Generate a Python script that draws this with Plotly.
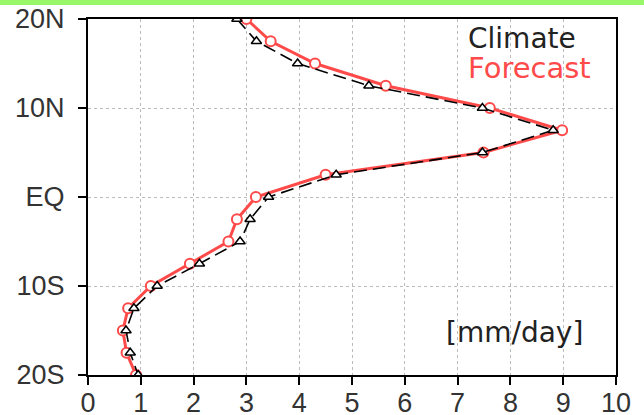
import plotly.graph_objects as go

lat = [20, 17.5, 15, 12.5, 10, 7.5, 5, 2.5, 0, -2.5, -5, -7.5, -10, -12.5, -15, -17.5, -20]
climate = [2.82, 3.19, 3.97, 5.32, 7.47, 8.81, 7.47, 4.70, 3.42, 3.07, 2.88, 2.11, 1.31, 0.87, 0.72, 0.80, 0.95]
forecast = [3.00, 3.46, 4.30, 5.64, 7.61, 8.98, 7.49, 4.50, 3.18, 2.82, 2.66, 1.93, 1.19, 0.76, 0.66, 0.73, 0.91]

lat_ticks = [-20, -10, 0, 10, 20]
lat_labels = ["20S", "10S", "EQ", "10N", "20N"]
x_ticks = [0, 1, 2, 3, 4, 5, 6, 7, 8, 9, 10]

RED = "#ff4a4a"

fig = go.Figure()
fig.add_trace(go.Scatter(
    x=forecast, y=lat, mode="lines+markers", name="Forecast",
    line=dict(color=RED, width=3),
    marker=dict(symbol="circle", size=10, color="white", line=dict(color=RED, width=2)),
))
fig.add_trace(go.Scatter(
    x=climate, y=lat, mode="lines+markers", name="Climate",
    line=dict(color="black", width=1.6, dash="13px,6px"),
    marker=dict(symbol="triangle-up", size=9, color="white", line=dict(color="black", width=1.5)),
))

fig.update_layout(
    width=644, height=415,
    margin=dict(l=88, r=28, t=19, b=40),
    paper_bgcolor="white", plot_bgcolor="white",
    showlegend=False,
    font=dict(family="Liberation Sans", color="#333333", size=27),
    shapes=[dict(type="rect", xref="paper", yref="paper",
                 x0=-0.17, x1=1.06, y0=1.0393, y1=1.06,
                 fillcolor="#98f86a", line=dict(width=0), layer="above")],
    annotations=[
        dict(text="Climate", x=0.716, y=0.9466, xref="paper", yref="paper",
             xanchor="left", yanchor="middle", showarrow=False,
             font=dict(family="DejaVu Sans", size=28, color="#222222")),
        dict(text="Forecast", x=0.716, y=0.862, xref="paper", yref="paper",
             xanchor="left", yanchor="middle", showarrow=False,
             font=dict(family="DejaVu Sans", size=29, color=RED)),
        dict(text="[mm/day]", x=0.941, y=0.118, xref="paper", yref="paper",
             xanchor="right", yanchor="middle", showarrow=False,
             font=dict(family="DejaVu Sans", size=28, color="#222222")),
    ],
)
fig.update_xaxes(
    range=[0, 10], tickvals=x_ticks, ticks="outside", ticklen=8, tickwidth=2,
    tickcolor="black", showline=True, linecolor="black", linewidth=2, mirror=True,
    showgrid=True, gridcolor="#bbbbbb", gridwidth=1, griddash="dot", zeroline=False,
    ticklabelstandoff=-5, automargin=False,
)
fig.update_yaxes(
    range=[-20, 20], tickvals=lat_ticks, ticktext=lat_labels, ticks="outside",
    ticklen=8, tickwidth=2, tickcolor="black", showline=True, linecolor="black",
    linewidth=2, mirror=True, showgrid=True, gridcolor="#bbbbbb", gridwidth=1,
    griddash="dot", zeroline=False, ticklabelstandoff=8, automargin=False,
)

fig.write_html("out.html", config={"displayModeBar": False},
               post_script="document.body.style.margin='0';")
